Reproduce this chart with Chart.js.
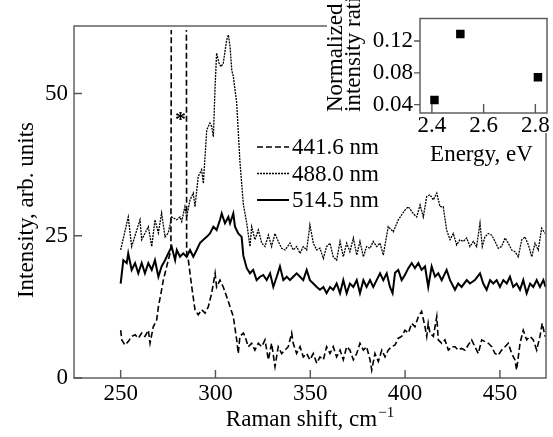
<!DOCTYPE html>
<html><head><meta charset="utf-8">
<script src="https://cdn.jsdelivr.net/npm/chart.js@4"></script>
<style>
html,body{margin:0;padding:0;background:#fff;}
#wrap{position:relative;width:553px;height:437px;overflow:hidden;}
#main{position:absolute;left:0;top:0;}
#inset{position:absolute;left:327px;top:0;}
</style></head><body>
<div id="wrap"><canvas id="main" width="553" height="437"></canvas><canvas id="inset" width="226" height="175"></canvas></div>
<script>
// ---- Data ----
const seriesLabels = ['441.6 nm', '488.0 nm', '514.5 nm'];

const shift441 = [
 250,250.6,252.3,254.0,255.8,257.6,259.3,261.1,262.8,264.6,
 265.5,267.2,269.0,269.9,271.6,272.5,273.4,275.1,276.5,277.0,
 284.5,284.8,285.7,287.5,289.2,290.9,292.7,294.5,296.2,298.0,
 299.8,300.6,302.4,304.1,305.9,307.7,309.4,311.2,312.0,312.9,
 314.7,315.6,317.3,319.1,320.8,322.6,324.4,326.1,327.9,329.6,
 331.4,333.1,334.9,336.7,338.4,340.2,341.0,342.8,344.6,346.3,
 348.1,349.8,351.6,353.4,355.1,356.9,358.6,360.4,362.1,363.9,
 365.7,367.4,369.2,370.9,372.7,374.5,376.2,378.0,379.7,381.5,
 382.4,384.1,385.9,387.7,389.4,391.1,392.9,394.7,396.4,398.2,
 399.9,401.7,403.5,405.2,407.0,408.7,410.5,411.4,412.2,413.1,
 414.9,416.7,417.5,419.3,421.0,422.8,424.6,426.3,428.0,429.8,
 431.6,433.3,435.1,436.8,438.6,440.4,442.1,443.9,445.7,447.4,
 449.1,450.9,452.7,454.4,456.2,457.9,458.8,460.6,462.3,464.1,
 465.9,467.6,469.4,471.1,472.3,473.8];
const int441 = [
 8.4,6.7,5.8,6.4,7.3,7.6,7.0,7.9,7.3,8.4,
 6.1,9.0,10.2,12.5,15.5,17.2,18.4,20.7,22.5,120,
 120,22.0,20.7,16.0,12.0,11.1,12.0,11.4,12.5,14.9,
 18.4,16.0,17.2,16.0,14.3,12.5,10.8,6.7,4.3,7.3,
 7.9,7.3,5.5,6.1,4.9,6.1,5.5,6.7,3.2,6.1,
 2.0,5.5,4.3,4.9,5.5,7.9,6.1,4.3,5.5,3.7,
 4.3,3.2,4.3,2.6,3.7,3.2,5.5,4.3,5.5,3.7,
 4.9,3.2,5.5,4.9,3.2,4.3,6.1,4.9,5.5,3.2,
 1.4,4.3,2.9,4.9,3.7,4.9,5.5,5.8,7.0,7.3,
 8.4,7.9,9.6,9.0,10.8,11.7,9.0,7.3,9.6,7.9,
 7.3,10.8,6.7,6.1,6.7,4.9,5.5,5.5,4.9,5.2,
 4.9,5.8,6.7,5.5,4.3,6.7,6.4,6.1,5.5,4.3,
 4.0,4.9,5.5,6.1,4.3,3.2,1.4,6.1,8.4,6.7,
 7.3,6.7,4.9,7.3,9.6,7.3];

const shift488 = [
 250,254.0,255.8,260.2,261.1,264.6,266.4,268.1,269.9,271.6,
 273.4,275.1,276.9,279.6,281.3,282.2,283.9,284.8,286.6,288.3,
 289.2,290.9,292.7,293.6,295.4,297.1,298.0,298.9,299.8,300.6,
 301.9,302.9,304.1,305.9,306.8,307.7,308.6,309.4,311.2,312.9,
 314.7,316.5,318.2,319.1,320.8,322.6,324.4,326.1,327.9,329.6,
 331.4,333.1,334.9,336.7,339.3,341.0,342.8,344.6,346.3,348.1,
 349.8,351.6,353.4,355.1,356.9,358.6,360.4,362.1,363.9,365.7,
 367.4,369.2,370.9,372.7,374.5,376.2,378.0,379.7,381.5,383.2,
 385.0,386.8,388.5,390.3,391.1,393.8,396.4,399.9,401.7,404.3,
 406.1,407.9,409.6,411.4,413.1,414.9,416.7,418.4,420.1,421.9,
 423.7,425.4,427.2,428.9,430.7,432.5,434.2,436.0,437.7,439.5,
 440.7,442.1,443.9,445.7,447.4,449.1,450.9,452.7,454.4,456.2,
 457.9,459.7,461.5,463.2,465.0,466.8,468.5,470.2,472.0,473.8];
const int488 = [
 22.5,28.3,23.1,27.8,24.3,26.6,23.1,27.8,25.5,29.0,
 24.8,25.5,28.3,27.8,28.3,27.5,30.1,28.3,31.3,32.5,
 30.1,35.4,36.6,34.2,43.6,44.8,44.2,42.4,51.2,57.1,
 55.3,54.7,55.3,59.4,60.3,58.2,54.1,53.0,48.3,38.0,
 30.5,27.2,23.1,26.6,24.3,26.0,23.7,23.1,25.1,23.1,
 25.4,24.0,22.8,22.5,23.7,22.5,23.1,21.9,23.1,22.5,
 26.9,23.7,22.5,22.8,21.0,23.1,23.7,21.3,20.7,24.0,
 21.3,23.7,22.2,24.6,21.6,24.0,21.3,23.1,22.8,24.0,
 23.1,23.7,21.6,25.1,26.6,25.7,27.8,29.5,30.1,28.9,
 28.3,30.4,28.3,31.9,32.2,31.3,32.5,30.1,30.1,26.0,
 24.3,25.4,23.4,24.3,24.0,24.6,23.1,24.0,23.1,27.2,
 23.1,24.8,25.4,25.1,24.0,22.8,23.1,24.6,23.7,22.5,
 22.2,21.3,24.3,24.8,23.4,21.3,23.7,22.5,26.3,25.4];

const shift514 = [
 250,251.4,253.2,254.0,255.8,257.6,259.3,261.1,262.8,264.6,
 266.4,268.1,269.9,271.6,273.4,275.1,276.9,278.7,279.6,281.3,
 283.0,284.8,286.6,288.3,290.1,291.8,293.6,295.4,297.1,298.9,
 300.6,302.4,303.3,305.0,306.8,307.7,309.4,310.3,312.0,313.8,
 314.7,316.5,318.2,319.9,321.7,323.5,325.2,327.0,328.8,330.5,
 332.3,334.0,335.8,337.6,339.3,341.0,342.8,344.6,346.3,348.1,
 349.8,351.6,353.4,355.1,356.9,358.6,360.4,362.1,363.9,365.7,
 367.4,369.2,370.9,372.7,374.5,376.2,378.0,379.7,381.5,383.2,
 385.0,386.8,388.5,390.3,392.0,393.4,394.7,396.4,398.2,399.9,
 401.7,403.5,405.2,407.0,408.7,410.5,412.2,414.0,415.8,417.5,
 419.3,421.9,423.7,426.3,428.0,429.8,432.5,434.2,436.8,439.5,
 441.2,443.0,444.8,446.5,448.3,450.0,451.8,453.6,455.3,457.0,
 458.8,460.6,462.3,464.1,465.9,467.6,469.4,471.1,472.9,474.1];
const int514 = [
 16.6,20.7,20.2,21.9,19.0,20.2,18.4,20.2,18.4,20.2,
 19.0,20.7,17.8,19.6,20.7,21.9,23.1,20.7,22.5,21.3,
 21.9,21.3,22.5,21.3,22.5,23.7,24.3,24.8,25.4,26.6,
 26.0,27.8,28.9,27.2,28.3,27.2,28.9,26.6,25.4,24.8,
 21.5,19.3,18.4,19.0,17.2,17.8,18.1,17.2,18.4,16.0,
 17.8,19.6,17.2,17.8,17.2,17.8,18.4,17.8,17.2,19.0,
 17.2,16.6,16.0,15.5,16.0,14.9,16.0,15.5,16.6,14.9,
 17.2,14.9,16.6,16.0,17.2,14.9,17.2,16.0,17.2,16.0,
 17.2,18.4,17.2,18.4,16.0,14.9,18.5,19.0,17.2,18.1,
 19.3,20.2,19.3,20.2,19.0,19.6,16.0,19.6,17.8,18.4,
 17.2,19.0,17.2,15.5,16.6,16.0,17.2,16.6,17.2,18.4,
 16.6,15.5,17.2,16.6,17.2,16.0,17.2,16.6,17.8,16.0,
 16.6,15.5,17.2,14.9,16.6,16.0,17.2,16.0,17.2,16.0];

const mainXTicks = [250, 300, 350, 400, 450];
const mainYTicks = [0, 25, 50];

// Inset data
const energyEV = [2.41, 2.51, 2.81];
const intensityRatio = [0.046, 0.129, 0.0745];
const insetXTicks = [2.4, 2.6, 2.8];
const insetXTickLabels = ['2.4', '2.6', '2.8'];
const insetYTicks = [0.04, 0.08, 0.12];
const insetYTickLabels = ['0.04', '0.08', '0.12'];

// ---- Helpers ----
const FONT = "'Liberation Serif', 'Times New Roman', serif";
const FRAME = '#555';
function pts(xs, ys) { return xs.map((x, i) => ({ x: x, y: ys[i] })); }

const mainPlugin = {
  id: 'mainDecor',
  afterDatasetsDraw(chart) {
    const ctx = chart.ctx, ca = chart.chartArea;
    const xs = chart.scales.x, ys = chart.scales.y;
    ctx.save();
    // frame
    ctx.strokeStyle = FRAME; ctx.lineWidth = 1.4;
    ctx.strokeRect(ca.left, ca.top, ca.right - ca.left, ca.bottom - ca.top);
    // inward ticks
    ctx.beginPath();
    mainXTicks.forEach(v => { const p = xs.getPixelForValue(v); ctx.moveTo(p, ca.bottom); ctx.lineTo(p, ca.bottom - 8); });
    mainYTicks.forEach(v => { const p = ys.getPixelForValue(v); ctx.moveTo(ca.left, p); ctx.lineTo(ca.left + 8, p); });
    ctx.stroke();
    // legend
    const ds = chart.data.datasets;
    const rowY = [147, 173.5, 200];
    ds.forEach((d, i) => {
      ctx.save();
      ctx.strokeStyle = d.borderColor; ctx.lineWidth = d.borderWidth;
      ctx.setLineDash(d.borderDash || []);
      ctx.beginPath(); ctx.moveTo(257, rowY[i]); ctx.lineTo(289, rowY[i]); ctx.stroke();
      ctx.restore();
      ctx.fillStyle = '#000'; ctx.font = '23px ' + FONT;
      ctx.textAlign = 'left'; ctx.textBaseline = 'middle';
      ctx.fillText(d.label, 292, rowY[i] + 1);
    });
    // asterisk marking the off-scale line
    ctx.font = 'bold 22px ' + FONT; ctx.textAlign = 'center'; ctx.textBaseline = 'alphabetic';
    ctx.fillText('*', xs.getPixelForValue(281.5), ys.getPixelForValue(45.9) + 9);
    // y title
    ctx.save();
    ctx.translate(33, (ca.top + ca.bottom) / 2 + 8);
    ctx.rotate(-Math.PI / 2);
    ctx.font = '23px ' + FONT; ctx.textAlign = 'center'; ctx.textBaseline = 'alphabetic';
    ctx.fillText('Intensity, arb. units', 0, 0);
    ctx.restore();
    // x title with superscript
    ctx.font = '23px ' + FONT;
    const base = 'Raman shift, cm';
    const w1 = ctx.measureText(base).width;
    ctx.font = '15px ' + FONT;
    const sup = '\u22121';
    const w2 = ctx.measureText(sup).width;
    const x0 = (ca.left + ca.right) / 2 - (w1 + w2 + 1) / 2;
    ctx.textAlign = 'left';
    ctx.font = '23px ' + FONT;
    ctx.fillText(base, x0, 426);
    ctx.font = '15px ' + FONT;
    ctx.fillText(sup, x0 + w1 + 1, 417);
    ctx.restore();
  }
};

new Chart(document.getElementById('main'), {
  type: 'line',
  data: {
    datasets: [
      { label: seriesLabels[0], data: pts(shift441, int441), borderColor: '#000', borderWidth: 1.6, borderDash: [6, 3], clip: { left: 0, top: -4, right: 0, bottom: 4 } },
      { label: seriesLabels[1], data: pts(shift488, int488), borderColor: '#000', borderWidth: 1.3, borderDash: [2, 1] },
      { label: seriesLabels[2], data: pts(shift514, int514), borderColor: '#000', borderWidth: 2 }
    ]
  },
  options: {
    responsive: false, animation: false, events: [],
    elements: { point: { radius: 0 }, line: { tension: 0, fill: false } },
    layout: { padding: { left: 0, top: 26, right: 7, bottom: 0 } },
    plugins: { legend: { display: false }, tooltip: { enabled: false } },
    scales: {
      x: {
        type: 'linear', min: 225.4, max: 474.3,
        afterFit(s) { s.height = 59; },
        afterBuildTicks(s) { s.ticks = mainXTicks.map(v => ({ value: v })); },
        grid: { display: false, drawTicks: false }, border: { display: false },
        ticks: { color: '#000', font: { family: FONT, size: 23, lineHeight: 1 }, padding: 4, maxRotation: 0, autoSkip: false, callback: v => String(v) }
      },
      y: {
        type: 'linear', min: 0, max: 61.86,
        afterFit(s) { s.width = 74; },
        afterBuildTicks(s) { s.ticks = mainYTicks.map(v => ({ value: v })); },
        grid: { display: false, drawTicks: false }, border: { display: false },
        ticks: { color: '#000', font: { family: FONT, size: 23, lineHeight: 1 }, padding: 6, callback: v => String(v) }
      }
    }
  },
  plugins: [mainPlugin]
});

const insetPlugin = {
  id: 'insetDecor',
  beforeDraw(chart) {
    const ctx = chart.ctx;
    ctx.save(); ctx.fillStyle = '#fff'; ctx.fillRect(0, 0, 226, 133); ctx.restore();
  },
  afterDatasetsDraw(chart) {
    const ctx = chart.ctx, ca = chart.chartArea;
    const xs = chart.scales.x, ys = chart.scales.y;
    ctx.save();
    ctx.strokeStyle = FRAME; ctx.lineWidth = 1.4;
    ctx.strokeRect(ca.left, ca.top, ca.right - ca.left, ca.bottom - ca.top);
    ctx.beginPath();
    insetXTicks.forEach(v => { const p = xs.getPixelForValue(v); ctx.moveTo(p, ca.bottom); ctx.lineTo(p, ca.bottom - 9); });
    insetYTicks.forEach(v => { const p = ys.getPixelForValue(v); ctx.moveTo(ca.left, p); ctx.lineTo(ca.left - 6, p); });
    ctx.stroke();
    ctx.fillStyle = '#000';
    ctx.font = '23px ' + FONT; ctx.textBaseline = 'alphabetic';
    // y title, two lines, rotated
    ctx.save();
    ctx.translate(0, 112);
    ctx.rotate(-Math.PI / 2);
    ctx.textAlign = 'left';
    ctx.fillText('Normalized', 0, 15);
    ctx.fillText('intensity ratio', 0, 33);
    ctx.restore();
    // x title
    ctx.textAlign = 'center';
    ctx.fillText('Energy, eV', (ca.left + ca.right) / 2 - 2, 161);
    ctx.restore();
  }
};

new Chart(document.getElementById('inset'), {
  type: 'scatter',
  data: {
    datasets: [{ data: pts(energyEV, intensityRatio), pointStyle: 'rect', pointRadius: 6, backgroundColor: '#000', borderColor: '#000', borderWidth: 0 }]
  },
  options: {
    responsive: false, animation: false, events: [],
    layout: { padding: { left: 0, top: 3, right: 1, bottom: 0 } },
    plugins: { legend: { display: false }, tooltip: { enabled: false } },
    scales: {
      x: {
        type: 'linear', min: 2.354, max: 2.845,
        afterFit(s) { s.height = 62; },
        afterBuildTicks(s) { s.ticks = insetXTicks.map(v => ({ value: v })); },
        grid: { display: false, drawTicks: false }, border: { display: false },
        ticks: { color: '#000', font: { family: FONT, size: 23, lineHeight: 1 }, padding: 1, maxRotation: 0, autoSkip: false, callback: (v, i) => insetXTickLabels[i] }
      },
      y: {
        type: 'linear', min: 0.0295, max: 0.1484,
        afterFit(s) { s.width = 93; },
        afterBuildTicks(s) { s.ticks = insetYTicks.map(v => ({ value: v })); },
        grid: { display: false, drawTicks: false }, border: { display: false },
        ticks: { color: '#000', font: { family: FONT, size: 23, lineHeight: 1 }, padding: 7, callback: (v, i) => insetYTickLabels[i] }
      }
    }
  },
  plugins: [insetPlugin]
});
</script>
</body></html>
